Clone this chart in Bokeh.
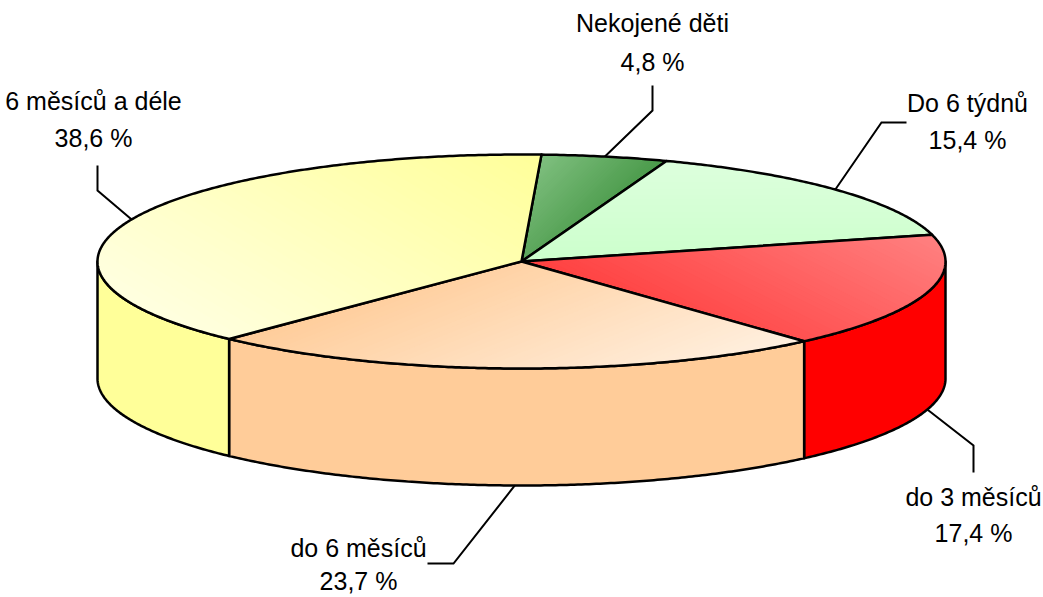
import math
from bokeh.plotting import figure
from bokeh.models import Range1d
from bokeh.core.properties import value
from bokeh.embed import file_html
from bokeh.resources import INLINE

# ---------------- data ----------------
categories = ["Nekojené děti", "Do 6 týdnů", "do 3 měsíců", "do 6 měsíců", "6 měsíců a déle"]
shares = [4.8, 15.4, 17.4, 23.7, 38.6]

# ---------------- styles ----------------
top_start = ["#80c080", "#ddffdd", "#ff8080", "#ffcc99", "#ffff99"]
top_end = ["#4a9a4a", "#ccffcc", "#ff4040", "#fff0e0", "#ffffe0"]
grad_dir = [(1.0, 1.0), (0.0, 1.0), (-0.5, 1.0), (0.4, 1.0), (-0.6, 1.0)]
side_colors = ["#4a9a4a", "#ccffcc", "#ff0000", "#ffcc99", "#ffff99"]

# layout (pixel space of the page)
W, H = 1043, 597
CX, CY, RX, RY, DEPTH = 521, 261, 424, 107, 117
START_ANGLE = 87.3
label_x = [652, 967, 973, 358, 93]
label_base = [(22, 61), (102, 139), (496, 532), (547, 580), (100, 137)]
elbows = [[(652, 110), (652, 85)], [(881, 122), (906, 122)], [(973, 445), (973, 472)],
          [(453, 563), (427, 563)], [(97, 190), (97, 165)]]
FONT = "Liberation Sans"


def ept(theta, dy=0.0):
    t = math.radians(theta)
    return CX + RX * math.cos(t), CY - RY * math.sin(t) + dy


def arc(hi, lo, dy=0.0, n=None):
    if n is None:
        n = max(8, int(abs(hi - lo) * 2))
    return [ept(hi + (lo - hi) * i / n, dy) for i in range(n + 1)]


def clip(poly, d, c):
    out = []
    m = len(poly)
    for i in range(m):
        p, q = poly[i], poly[(i + 1) % m]
        fp = p[0] * d[0] + p[1] * d[1] - c
        fq = q[0] * d[0] + q[1] * d[1] - c
        if fp >= 0:
            out.append(p)
        if (fp >= 0) != (fq >= 0):
            t = fp / (fp - fq)
            out.append((p[0] + (q[0] - p[0]) * t, p[1] + (q[1] - p[1]) * t))
    return out


def hex2rgb(h):
    h = h.lstrip("#")
    return [int(h[i:i + 2], 16) for i in (0, 2, 4)]


def lerp(c1, c2, t):
    a, b = hex2rgb(c1), hex2rgb(c2)
    return "#%02x%02x%02x" % tuple(int(round(a[i] + (b[i] - a[i]) * t)) for i in range(3))


total = sum(shares)
angles = []
a = START_ANGLE
for s in shares:
    span = 360.0 * s / total
    angles.append((a, a - span))
    a -= span

p = figure(width=W, height=H, x_range=Range1d(0, W), y_range=Range1d(H, 0),
           output_backend="svg", toolbar_location=None, min_border=0,
           x_axis_location=None, y_axis_location=None)
p.grid.visible = False
p.outline_line_color = None
p.background_fill_color = "white"
p.border_fill_color = "white"

# ---- side walls (front half only) ----
for i, (hi, lo) in enumerate(angles):
    for k in (-1, 0, 1):
        f_lo, f_hi = -180 + 360 * k, 0 + 360 * k
        s_hi, s_lo = min(hi, f_hi), max(lo, f_lo)
        if s_hi - s_lo > 0.01:
            top = arc(s_hi, s_lo)
            bot = arc(s_lo, s_hi, DEPTH)
            poly = top + bot
            p.patch([q[0] for q in poly], [q[1] for q in poly], fill_color=side_colors[i],
                    line_color="black", line_width=2.5, line_join="round")

# ---- top faces with linear gradients ----
N = 48
for i, (hi, lo) in enumerate(angles):
    poly = [(CX, CY)] + arc(hi, lo)
    dx, dy = grad_dir[i]
    nrm = math.hypot(dx, dy)
    d = (dx / nrm, dy / nrm)
    proj = [q[0] * d[0] + q[1] * d[1] for q in poly]
    pmin, pmax = min(proj), max(proj)
    xs, ys, cols = [], [], []
    for k in range(N):
        c = pmin + (pmax - pmin) * k / N
        sub = poly if k == 0 else clip(poly, d, c)
        if len(sub) < 3:
            continue
        xs.append([q[0] for q in sub])
        ys.append([q[1] for q in sub])
        cols.append(lerp(top_start[i], top_end[i], (k + 0.5) / N))
    p.patches(xs, ys, fill_color=cols, line_alpha=0)
    p.patch([q[0] for q in poly], [q[1] for q in poly], fill_alpha=0,
            line_color="black", line_width=2.5, line_join="round")

# ---- leader lines and labels ----
for i, (hi, lo) in enumerate(angles):
    mid = (hi + lo) / 2.0
    s = math.sin(math.radians(mid))
    anchor = ept(mid, DEPTH if s < 0 else 0.0)
    pts = [anchor] + elbows[i]
    p.line([q[0] for q in pts], [q[1] for q in pts], line_color="black", line_width=2,
           line_join="miter")
    pct = ("%.1f" % shares[i]).replace(".", ",") + " %"
    p.text(x=[label_x[i], label_x[i]], y=list(label_base[i]), text=[categories[i], pct],
           text_font=value(FONT), text_font_size=value("25px"), text_align="center",
           text_baseline="alphabetic", text_color="black")

open("out.html", "w").write(file_html(p, INLINE))
